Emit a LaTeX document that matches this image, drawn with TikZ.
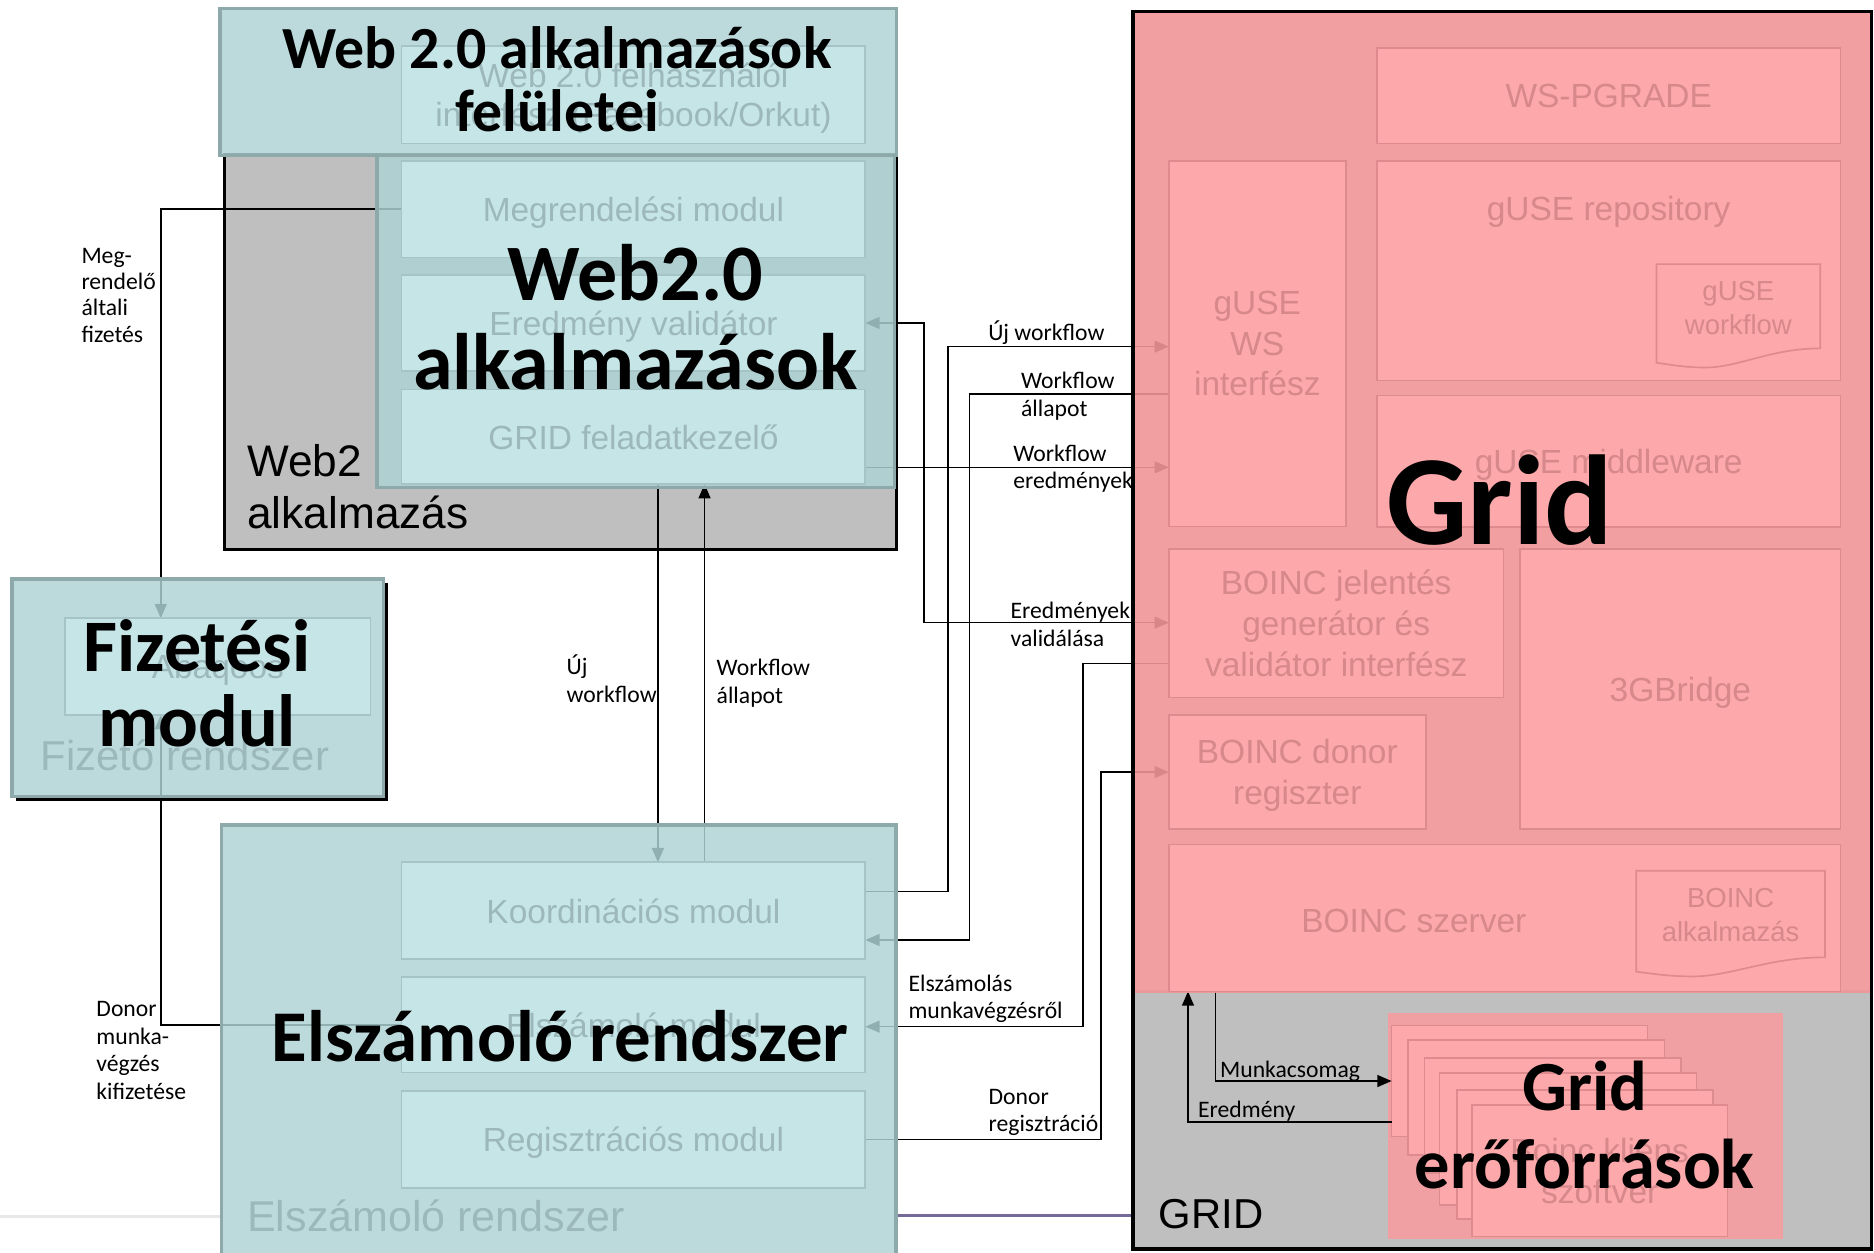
\documentclass[tikz,border=0pt]{standalone}
\usepackage{fontspec}
\setmainfont{Carlito}
\newfontfamily\arialf{Liberation Sans}
\usetikzlibrary{arrows.meta,calc}
\definecolor{tealov}{RGB}{174,211,213}
\definecolor{tealbd}{RGB}{141,169,170}
\definecolor{tealin}{RGB}{198,229,231}
\definecolor{tealinbd}{RGB}{166,195,197}
\definecolor{tealtx}{RGB}{157,184,186}
\definecolor{pinkov}{RGB}{241,149,152}
\definecolor{pinkin}{RGB}{253,168,170}
\definecolor{pinkinbd}{RGB}{222,139,143}
\definecolor{pinktx}{RGB}{214,136,139}
\definecolor{grayfill}{RGB}{191,191,191}
\definecolor{pinkbg}{RGB}{240,160,162}
\definecolor{purpleln}{RGB}{70,55,120}
\pgfdeclarelayer{bg}
\pgfdeclarelayer{lines}
\pgfdeclarelayer{top}
\pgfsetlayers{bg,lines,main,top}
\newcommand\bx[7]{\node[#1,anchor=north west,inner sep=0pt,outer sep=0pt,minimum width=#5pt,minimum height=#6pt] (#2) at (#3,#4) {#7};}
\newcommand\docshape[4]{\draw[fill=pinkin, draw=pinkinbd, line width=1.4pt] (#1,#2) -- ++(#3,0) -- ++(0,#4) .. controls +(-0.3*#3,0) and +(0.2*#3,0) .. ++(-0.7*#3,16) .. controls +(-0.12*#3,0) and +(0.1*#3,2) .. ++(-0.3*#3,-4) -- cycle;}
\begin{document}
\begin{tikzpicture}[x=1pt,y=-1pt,
  >={Triangle[length=12pt,width=10pt]},
  conn/.style={line width=1.3pt},
  graybox/.style={draw=black, fill=grayfill, line width=2.6pt},
  gridframe/.style={draw=black, line width=2.6pt},
  pinkbgst/.style={fill=pinkbg},
  stackst/.style={fill=pinkin, draw=pinkinbd, line width=1.4pt, text=pinktx, font=\arialf\fontsize{28}{34}\selectfont, align=center},
  tealouter/.style={fill=tealov, fill opacity=0.83, draw=tealbd, draw opacity=1, line width=3pt},
  tealinner/.style={fill=tealin, draw=tealinbd, line width=1.4pt, text=tealtx, font=\arialf\fontsize{28}{33}\selectfont, align=center, text depth=0pt},
  pinkouter/.style={fill=pinkov, fill opacity=0.9},
  pinkinner/.style={fill=pinkin, draw=pinkinbd, line width=1.4pt, text=pinktx, font=\arialf\fontsize{28}{34}\selectfont, align=center, text depth=0pt},
  ptext/.style={text=pinktx, inner sep=0pt, align=center, font=\arialf\fontsize{28}{34}\selectfont},
  psmall/.style={text=pinktx, inner sep=0pt, align=center, font=\arialf\fontsize{23}{28.5}\selectfont},
  lbl/.style={anchor=north west, inner sep=0pt, align=left, font=\fontsize{19.8}{23}\selectfont},
  bigt/.style={inner sep=0pt, align=center},
  fadetxt/.style={anchor=base west, inner sep=0pt, text=tealtx, font=\arialf\fontsize{36}{40}\selectfont},
  blktxt/.style={anchor=base west, inner sep=0pt, font=\arialf\fontsize{37}{42}\selectfont}
]
\useasboundingbox (0,0) rectangle (1568,1048);
\clip (0,0) rectangle (1568,1048);

% ---------- background layer ----------
\begin{pgfonlayer}{bg}
\bx{graybox}{web2gray}{188}{129}{562}{331}{}
\fill[grayfill] (948,828) rectangle (1566,1045);
\bx{gridframe}{gridgray}{948}{10}{618}{1035}{}
\bx{pinkbgst}{resbg}{1161}{848}{331}{189}{}
\bx{stackst}{stackA}{1164.4}{858}{214}{93}{}
\bx{stackst}{stackB}{1178.3}{870.3}{214.5}{96}{}
\bx{stackst}{stackC}{1192}{885}{214.5}{97}{}
\bx{stackst}{stackD}{1204.4}{897.6}{215}{110.5}{}
\bx{stackst}{stackE}{1219.3}{912}{214.2}{108}{}
\bx{stackst}{stackF}{1231.5}{924.7}{214}{110}{Boinc kliens\\szoftver}
\end{pgfonlayer}

% ---------- teal left parts ----------
\bx{tealouter}{felul}{184}{7}{566}{123}{}
\bx{tealouter}{web2teal}{315.5}{130}{433}{278}{}
\bx{tealouter}{fizbox}{10}{484.5}{311}{182}{}
\draw[black, line width=2.4pt] ($(fizbox.north east)+(2.6,3)$) -- ($(fizbox.south east)+(2.6,2.6)$) -- ($(fizbox.south west)+(3,2.6)$);
\bx{tealouter}{elszbox}{185.5}{690.5}{564}{380}{}

\bx{tealinner}{felulin}{336}{38.5}{388}{81.5}{Web 2.0 felhasználói\\interfész (Facebook/Orkut)}
\bx{tealinner}{megr}{336}{134.5}{388}{81}{Megrendelési modul}
\bx{tealinner}{eredval}{336}{230}{388}{80.5}{Eredmény validátor}
\bx{tealinner}{gridfel}{336}{326}{388}{79}{GRID feladatkezelő}
\bx{tealinner}{abaqoos}{54.5}{517.3}{255.5}{81}{Abaqoos}
\bx{tealinner}{koord}{336}{721.5}{388}{81}{Koordinációs modul}
\bx{tealinner}{elszmod}{336}{817.5}{388}{80}{Elszámoló modul}
\bx{tealinner}{regisz}{336}{913}{388}{81}{Regisztrációs modul}

\node[fadetxt, font=\arialf\fontsize{35}{40}\selectfont] (tFizR) at (34,644.4) {Fizető rendszer};
\node[fadetxt] (tElszR) at (206.7,1030) {Elszámoló rendszer};
\node[blktxt] (tW2a) at (206.7,399) {Web2};
\node[blktxt] (tW2b) at (206.7,442.3) {alkalmazás};

% ---------- pink grid parts ----------
\bx{pinkouter}{gridpink}{949}{11}{616}{820}{}
\bx{pinkinner}{wspg}{1152}{40}{388}{80}{WS-PGRADE}
\bx{pinkinner}{gusews}{978}{134.5}{148}{306}{gUSE\\WS\\interfész}
\bx{pinkinner}{gurepo}{1152}{134.5}{388}{184}{}
\bx{pinkinner}{gumid}{1152}{331}{388}{110}{gUSE middleware}
\bx{pinkinner}{boincjel}{978}{459.5}{280}{124}{BOINC jelentés\\generátor és\\validátor interfész}
\bx{pinkinner}{bridge}{1272}{459.5}{268}{234}{3GBridge}
\bx{pinkinner}{donorreg}{978}{598.5}{215}{95}{BOINC donor\\regiszter}
\bx{pinkinner}{boincsz}{978}{706.5}{562}{123}{}
\node[ptext] (tRepo) at (1346,177) {gUSE repository};
\node[ptext] (tSzerver) at (1183,771) {BOINC szerver};
\docshape{1386}{221}{137}{70.5}
\node[psmall] (guwf) at (1454.5,258) {gUSE\\workflow};
\docshape{1369}{728.5}{158}{72.5}
\node[psmall] (boincapp) at (1448,766) {BOINC\\alkalmazás};

\draw[line width=2pt, draw=purpleln, opacity=0.75] (751,1017) -- (947,1017);
\draw[line width=3pt, draw=gray!18] (0,1018) -- (184,1018);

% ---------- connectors ----------
\begin{pgfonlayer}{lines}
\draw[conn,->] (megr.west) -| ($(abaqoos.north west)+(80,0)$);
\draw[conn,->] (elszmod.west) -| ($(abaqoos.south west)+(80,0)$);
\draw[conn,->] ($(gridfel.south)+(20.5,0)$) -- ($(koord.north)+(20.5,0)$);
\draw[conn,->] ($(koord.north)+(59.5,0)$) -- ($(gridfel.south)+(59.5,0)$);
\draw[conn,->] ($(koord.east)+(0,-16)$) -- ++(69,0) |- ($(gusews.west)+(0,2.5)$);
\draw[conn,->] ($(gusews.west)+(0,42)$) -- ++(-167,0) |- ($(koord.east)+(0,24.5)$);
\draw[conn,->] ($(gridfel.east)+(0,25.5)$) -- ($(gusews.west)+(0,103.5)$);
\draw[conn,<->] (eredval.east) -- ++(49,0) |- ($(boincjel.west)+(0,-0.5)$);
\draw[conn,->] ($(boincjel.west)+(0,33.5)$) -- ++(-72,0) |- ($(elszmod.east)+(0,1.5)$);
\draw[conn,->] (regisz.east) -- ++(197,0) |- (donorreg.west);
\draw[conn,->] ($(boincsz.south west)+(39,0)$) |- (stackA.west);
\draw[conn,->] ($(stackA.west)+(0,34.5)$) -| ($(boincsz.south west)+(16,0)$);
\end{pgfonlayer}

% ---------- top layer: borders, labels, big titles ----------
\begin{pgfonlayer}{top}
\draw[line width=2.6pt] (gridgray.north west) rectangle (gridgray.south east);
\node[anchor=base west, inner sep=0pt, font=\arialf\fontsize{35}{40}\selectfont] (tGRID) at (969.3,1028) {GRID};

\node[lbl, font=\fontsize{19.8}{22}\selectfont] (lMeg) at (68,204.6) {Meg-\strut\\rendelő\strut\\általi\strut\\fizetés\strut};
\node[lbl] (lDonorK) at (80.5,834.4) {Donor\strut\\munka-\strut\\végzés\strut\\kifizetése\strut};
\node[lbl] (lUjV) at (474,548) {Új\strut\\workflow\strut};
\node[lbl] (lAllV) at (599.5,549) {Workflow\strut\\állapot\strut};
\node[lbl] (lUjH) at (826.7,268) {Új workflow\strut};
\node[lbl] (lAllH) at (854.2,309) {Workflow\strut\\állapot\strut};
\node[lbl] (lEredm) at (847.6,369.7) {Workflow\strut\\eredmények\strut};
\node[lbl] (lValid) at (845.4,501.3) {Eredmények\strut\\validálása\strut};
\node[lbl] (lElsz) at (760,813.2) {Elszámolás\strut\\munkavégzésről\strut};
\node[lbl] (lDonorR) at (827,907.7) {Donor\strut\\regisztráció\strut};
\node[lbl] (lMunka) at (1020.7,885) {Munkacsomag\strut};
\node[lbl] (lEredmeny) at (1002.3,919) {Eredmény\strut};

\node[bigt, anchor=north, font=\bfseries\fontsize{50}{53}\selectfont] (tFelul) at (466,19.9) {Web 2.0 alkalmazások\strut\\felületei\strut};
\node[bigt, anchor=north, font=\bfseries\fontsize{67}{75}\selectfont] (tWeb) at (531.5,198.5) {Web2.0\strut\\alkalmazások\strut};
\node[bigt, anchor=north, font=\bfseries\fontsize{62}{63}\selectfont] (tFiz) at (165,517.4) {Fizetési\strut\\modul\strut};
\node[bigt, anchor=base, font=\bfseries\fontsize{61}{66}\selectfont] (tElsz) at (468.7,888.5) {Elszámoló rendszer};
\node[bigt, anchor=base, font=\bfseries\fontsize{107}{110}\selectfont] (tGrid) at (1255,456) {Grid};
\node[bigt, anchor=north, font=\bfseries\fontsize{59}{65.4}\selectfont] (tGridE) at (1326,883.2) {Grid\strut\\erőforrások\strut};
\end{pgfonlayer}
\end{tikzpicture}
\end{document}
